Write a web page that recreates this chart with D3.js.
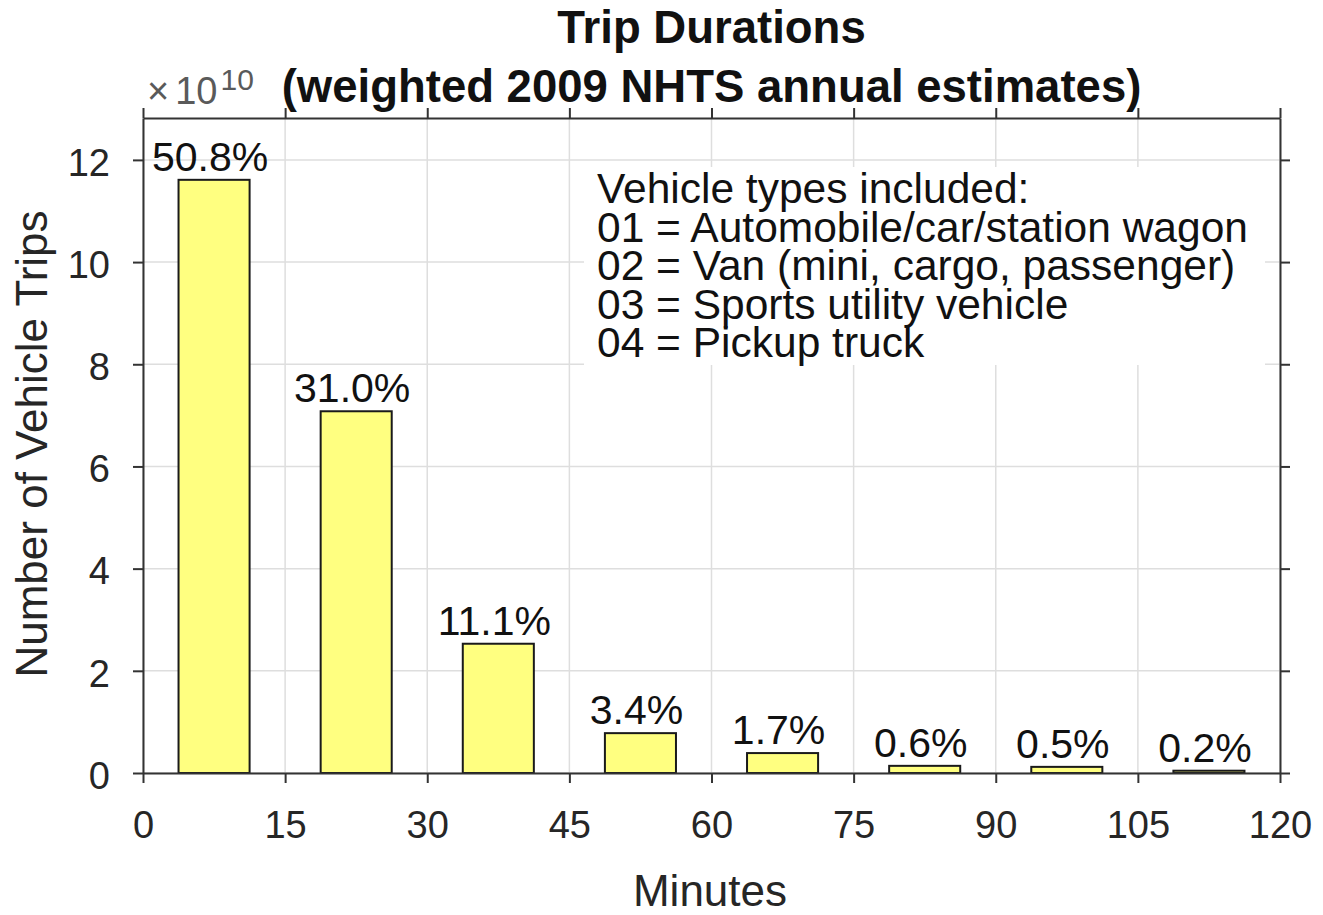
<!DOCTYPE html>
<html>
<head>
<meta charset="utf-8">
<title>Trip Durations</title>
<script src="https://cdn.jsdelivr.net/npm/d3@7"></script>
<style>
    body { margin: 0; background: white; }
    svg { font-family: "Liberation Sans", Arial, sans-serif; }
</style>
</head>
<body>
<svg width="1323" height="915"></svg>

<script>

// bin centres (minutes) and trip counts (x 1e10)
var binCenters = [7.5, 22.5, 37.5, 52.5, 67.5, 82.5, 97.5, 112.5];
var trips = [11.61, 7.08, 2.53, 0.78, 0.39, 0.14, 0.12, 0.045];
var pctLabels = ["50.8%", "31.0%", "11.1%", "3.4%", "1.7%", "0.6%", "0.5%", "0.2%"];
var binWidth = 7.5;

var xTicks = [0, 15, 30, 45, 60, 75, 90, 105, 120];
var yTicks = [0, 2, 4, 6, 8, 10, 12];

var titleLines = ["Trip Durations", "(weighted 2009 NHTS annual estimates)"];
var noteLines = [
    "Vehicle types included:",
    "01 = Automobile/car/station wagon",
    "02 = Van (mini, cargo, passenger)",
    "03 = Sports utility vehicle",
    "04 = Pickup truck"
];

function draw() {

    var svg = d3.select("svg");

    var plotLeft = 143, plotRight = 1280, plotTop = 118, plotBottom = 773;

    var x = d3.scaleLinear().domain([0, 120]).range([plotLeft, plotRight]);
    var y = d3.scaleLinear().domain([0, 12.82]).range([plotBottom, plotTop]);

    var axisColor = "#333333";
    var textColor = "#262626";

    // grid
    svg.append("g")
        .selectAll("line")
        .data(xTicks)
        .enter()
        .append("line")
        .attr("x1", d => x(d)).attr("x2", d => x(d))
        .attr("y1", plotTop).attr("y2", plotBottom)
        .attr("stroke", "#dedede")
        .attr("stroke-width", 1.5);

    svg.append("g")
        .selectAll("line")
        .data(yTicks)
        .enter()
        .append("line")
        .attr("x1", plotLeft).attr("x2", plotRight)
        .attr("y1", d => y(d)).attr("y2", d => y(d))
        .attr("stroke", "#dedede")
        .attr("stroke-width", 1.5);

    // note box (white background hides the grid)
    var noteX = 597, noteY0 = 203, noteStep = 38.5;
    svg.append("rect")
        .attr("x", noteX - 13)
        .attr("y", 167)
        .attr("width", 681)
        .attr("height", 198)
        .attr("fill", "white");

    svg.append("g")
        .selectAll("text")
        .data(noteLines)
        .enter()
        .append("text")
        .attr("x", noteX)
        .attr("y", (d, i) => noteY0 + i * noteStep)
        .attr("font-size", 42.5)
        .attr("fill", "#111")
        .text(d => d);

    // bars
    svg.append("g")
        .selectAll("rect")
        .data(binCenters)
        .enter()
        .append("rect")
        .attr("x", d => x(d - binWidth / 2))
        .attr("y", (d, i) => y(trips[i]))
        .attr("width", d => x(d + binWidth / 2) - x(d - binWidth / 2))
        .attr("height", (d, i) => y(0) - y(trips[i]))
        .attr("fill", "#ffff80")
        .attr("stroke", "#1a1a1a")
        .attr("stroke-width", 2);

    // percent labels
    svg.append("g")
        .selectAll("text")
        .data(binCenters)
        .enter()
        .append("text")
        .attr("x", d => x(d) - 4)
        .attr("y", (d, i) => y(trips[i]) - 9)
        .attr("text-anchor", "middle")
        .attr("font-size", 41)
        .attr("fill", "#111")
        .text((d, i) => pctLabels[i]);

    // axes box + outward ticks on all four sides
    var tickLen = 10;
    var xAxisB = d3.axisBottom(x).tickValues(xTicks).tickSizeInner(tickLen).tickSizeOuter(0).tickPadding(28);
    var xAxisT = d3.axisTop(x).tickValues(xTicks).tickSizeInner(tickLen).tickSizeOuter(0).tickFormat("");
    var yAxisL = d3.axisLeft(y).tickValues(yTicks).tickSizeInner(tickLen).tickSizeOuter(0).tickPadding(23);
    var yAxisR = d3.axisRight(y).tickValues(yTicks).tickSizeInner(tickLen).tickSizeOuter(0).tickFormat("");

    function styleAxis(g) {
        g.select(".domain").attr("stroke", axisColor).attr("stroke-width", 2);
        g.selectAll(".tick line").attr("stroke", axisColor).attr("stroke-width", 2);
        g.selectAll(".tick text")
            .attr("fill", textColor)
            .attr("font-size", 38)
            .attr("font-family", "Liberation Sans, Arial, sans-serif");
    }

    svg.append("g").attr("transform", "translate(0," + plotBottom + ")").call(xAxisB).call(styleAxis)
        .selectAll(".tick text").attr("dy", "0.71em");
    svg.append("g").attr("transform", "translate(0," + plotTop + ")").call(xAxisT).call(styleAxis);
    svg.append("g").attr("transform", "translate(" + plotLeft + ",0)").call(yAxisL).call(styleAxis)
        .selectAll(".tick text").attr("dy", "0.4em");
    svg.append("g").attr("transform", "translate(" + plotRight + ",0)").call(yAxisR).call(styleAxis);

    // exponent
    var expo = svg.append("text")
        .attr("x", 147)
        .attr("y", 104)
        .attr("font-size", 38)
        .attr("fill", "#5a5a5a");
    expo.append("tspan").text("\u00d7");
    expo.append("tspan").attr("dx", 6).text("10");
    expo.append("tspan").attr("dx", 3).attr("dy", -14).attr("font-size", 30).text("10");

    // title
    svg.append("g")
        .selectAll("text")
        .data(titleLines)
        .enter()
        .append("text")
        .attr("x", (plotLeft + plotRight) / 2)
        .attr("y", (d, i) => 43 + i * 59)
        .attr("text-anchor", "middle")
        .attr("font-size", 45.5)
        .attr("font-weight", "bold")
        .attr("fill", "#111")
        .text(d => d);

    // axis labels
    svg.append("text")
        .attr("x", 710)
        .attr("y", 906)
        .attr("text-anchor", "middle")
        .attr("font-size", 44)
        .attr("fill", textColor)
        .text("Minutes");

    svg.append("text")
        .attr("transform", "translate(47,444) rotate(-90)")
        .attr("text-anchor", "middle")
        .attr("font-size", 44)
        .attr("fill", textColor)
        .text("Number of Vehicle Trips");
}

draw();

</script>
</body>
</html>
